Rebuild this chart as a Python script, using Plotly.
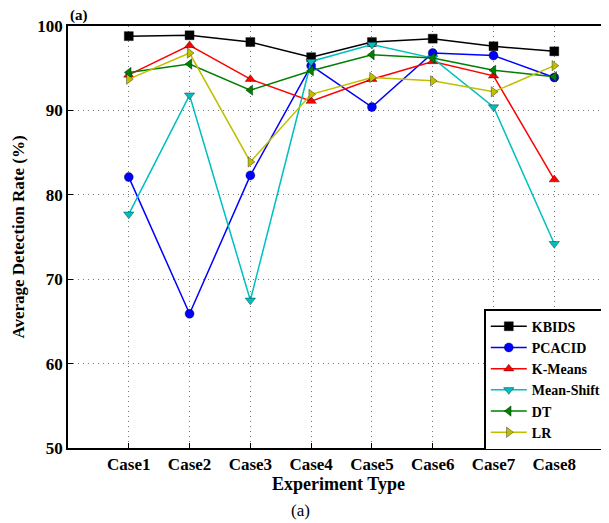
import plotly.graph_objects as go

cases = ["Case1", "Case2", "Case3", "Case4", "Case5", "Case6", "Case7", "Case8"]
kbids = [98.8, 98.9, 98.1, 96.3, 98.1, 98.5, 97.6, 97.0]
pcacid = [82.1, 65.9, 82.3, 95.3, 90.4, 96.8, 96.5, 93.9]
kmeans = [94.2, 97.7, 93.7, 91.1, 93.7, 95.8, 94.1, 81.8]
meanshift = [77.7, 91.8, 67.5, 95.8, 97.8, 96.2, 90.4, 74.2]
dt = [94.5, 95.5, 92.4, 94.7, 96.6, 96.2, 94.75, 94.0]
lr = [93.7, 96.8, 83.9, 91.9, 93.9, 93.5, 92.2, 95.3]

series = [
    ("KBIDS", kbids, "#000000", "square"),
    ("PCACID", pcacid, "#0000ff", "circle"),
    ("K-Means", kmeans, "#ff0000", "triangle-up"),
    ("Mean-Shift", meanshift, "#00bfbf", "triangle-down"),
    ("DT", dt, "#008000", "triangle-left"),
    ("LR", lr, "#bfbf00", "triangle-right"),
]

xpos = list(range(1, len(cases) + 1))
fig = go.Figure()
for name, vals, col, sym in series:
    fig.add_trace(go.Scatter(
        x=xpos, y=vals, name="<b>" + name + "</b>", mode="lines+markers",
        line=dict(color=col, width=1.5),
        marker=dict(symbol=sym, size=9, color=col,
                    line=dict(color="rgba(0,0,0,0.6)", width=0.6)),
    ))

ff = "Liberation Serif"
# the page body adds an 8px offset, so the figure is 8px smaller than the window
fig.update_layout(
    width=601, height=515,
    margin=dict(l=60, r=0, t=18, b=75, autoexpand=False),
    paper_bgcolor="white", plot_bgcolor="white",
    font=dict(family=ff, color="black"),
    showlegend=True,
    legend=dict(
        x=0.995, y=0.329, xanchor="right", yanchor="top",
        bgcolor="white", bordercolor="black", borderwidth=1.5,
        font=dict(family=ff, size=14, color="black"),
        tracegroupgap=0, itemwidth=36,
    ),
    xaxis=dict(
        range=[0, 8.9], tickmode="array", tickvals=xpos, ticktext=cases,
        showgrid=True, gridcolor="#777777", griddash="1px,4px", gridwidth=1,
        showline=True, linecolor="black", linewidth=1.5, mirror=True,
        ticks="inside", ticklen=5, tickcolor="black", automargin=False,
        tickfont=dict(family=ff, size=17, color="black", weight="bold"),
        title=dict(text="Experiment Type", standoff=3,
                   font=dict(family=ff, size=18, color="black", weight="bold")),
        zeroline=False,
    ),
    yaxis=dict(
        range=[50, 100], tickvals=[50, 60, 70, 80, 90, 100],
        showgrid=True, gridcolor="#777777", griddash="1px,4px", gridwidth=1,
        showline=True, linecolor="black", linewidth=1.5, mirror=False,
        ticks="inside", ticklen=5, tickcolor="black", automargin=False,
        tickfont=dict(family=ff, size=17, color="black", weight="bold"),
        title=dict(text="Average Detection Rate (%)", standoff=8,
                   font=dict(family=ff, size=17, color="black", weight="bold")),
        zeroline=False,
    ),
    annotations=[
        dict(text="<b>(a)</b>", xref="paper", yref="paper", x=0.0, y=1.0,
             xanchor="left", yanchor="bottom", showarrow=False,
             font=dict(family=ff, size=15, color="black")),
        dict(text="(a)", xref="paper", yref="paper", x=0.43, y=-0.147,
             xanchor="center", yanchor="middle", showarrow=False,
             font=dict(family=ff, size=17, color="black")),
    ],
)

fig.write_html("out.html")
